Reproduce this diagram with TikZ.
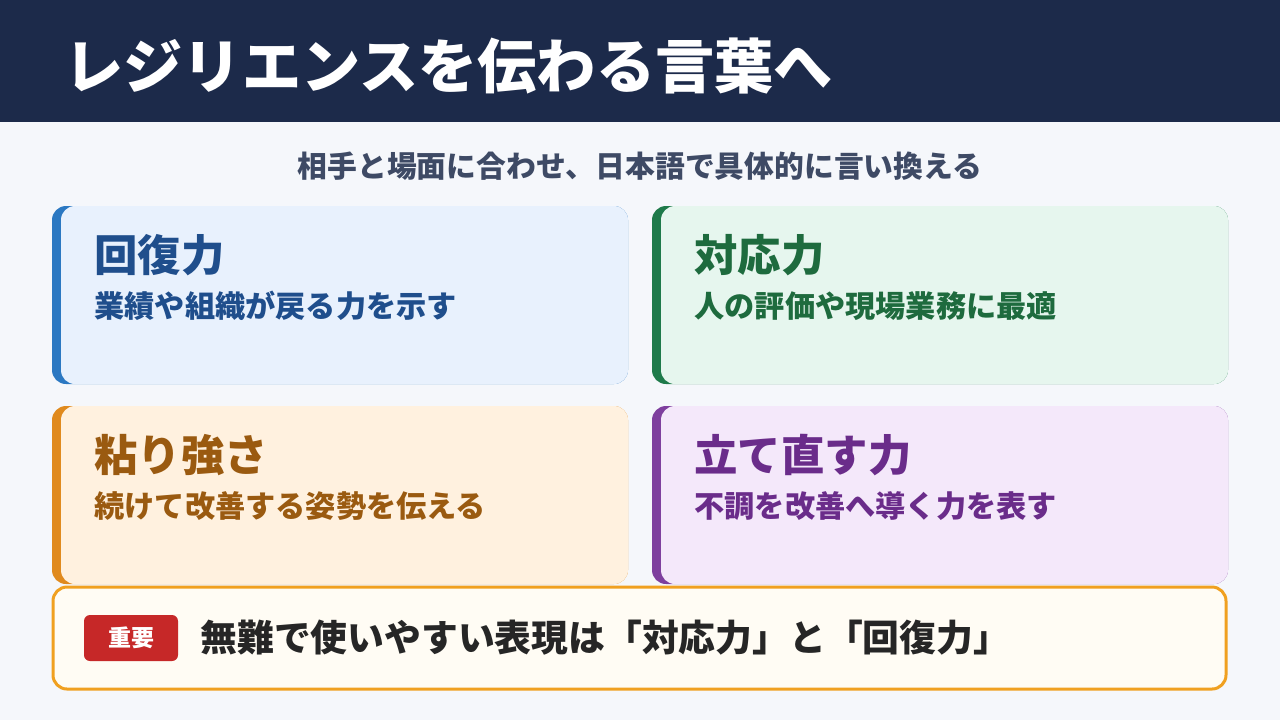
\documentclass[tikz,border=0pt]{standalone}
\usepackage{fontspec}
\setmainfont{Noto Sans CJK JP}
\usepackage{tikz}
\definecolor{navy}{HTML}{1C2A4A}
\definecolor{bgc}{HTML}{F5F7FB}
\definecolor{blueA}{HTML}{2B78C2}\definecolor{blueF}{HTML}{E8F1FD}\definecolor{blueT}{HTML}{1F4E8C}
\definecolor{greenA}{HTML}{1E7A4A}\definecolor{greenF}{HTML}{E6F6EE}\definecolor{greenT}{HTML}{1E6B3E}
\definecolor{orA}{HTML}{E08A1E}\definecolor{orF}{HTML}{FFF1DF}\definecolor{orT}{HTML}{9A5A10}
\definecolor{puA}{HTML}{7E3F9E}\definecolor{puF}{HTML}{F4E8FA}\definecolor{puT}{HTML}{6A2C8A}
\definecolor{gold}{HTML}{F0A020}
\definecolor{badge}{HTML}{C62828}
\definecolor{cream}{HTML}{FFFCF4}
\tikzstyle{head} = [anchor=west, inner sep=0pt, text=white, font=\fontsize{29.6}{34}\selectfont\bfseries]
\tikzstyle{ttl} = [anchor=west, inner sep=0pt, font=\fontsize{21.7}{26}\selectfont\bfseries]
\tikzstyle{sub} = [anchor=west, inner sep=0pt, font=\fontsize{15.1}{18}\selectfont\bfseries]
\newcommand{\card}[7]{%
  \fill[#3, rounded corners=7pt] (#1,#2) rectangle ++(576,178);
  \fill[#4, rounded corners=7pt] (#1+9,#2) rectangle ++(567,178);
  \node (#7t) at (#1+42,#2+49) [ttl, text=#5] {#6};
}
\begin{document}
\begin{tikzpicture}[x=0.5pt, y=-0.5pt]
  \useasboundingbox (0,0) rectangle (1280,720);
  \fill[bgc] (0,0) rectangle (1280,720);
  \fill[navy] (0,0) rectangle (1280,122);
  \node (title) at (64,66) [head] {レジリエンスを伝わる言葉へ};
  \node (lead) at (640,166) [font=\fontsize{14.9}{18}\selectfont\bfseries, text=navy!85] {相手と場面に合わせ、日本語で具体的に言い換える};
  \card{52}{206}{blueA}{blueF}{blueT}{回復力}{kaifuku}
  \node (kaifukus) at (94,306) [sub, text=blueT] {業績や組織が戻る力を示す};
  \card{652}{206}{greenA}{greenF}{greenT}{対応力}{taiou}
  \node (taious) at (694,306) [sub, text=greenT] {人の評価や現場業務に最適};
  \card{52}{406}{orA}{orF}{orT}{粘り強さ}{nebari}
  \node (nebaris) at (94,506) [sub, text=orT] {続けて改善する姿勢を伝える};
  \card{652}{406}{puA}{puF}{puT}{立て直す力}{tatenaoshi}
  \node (tatenaoshis) at (694,506) [sub, text=puT] {不調を改善へ導く力を表す};
  \draw[gold, line width=1.5pt, fill=cream, rounded corners=7pt] (53,587) rectangle (1226,689);
  \node (badge) at (131,638) [fill=badge, rounded corners=3pt, minimum width=47pt, minimum height=23pt,
    text=white, font=\fontsize{11.5}{13}\selectfont\bfseries] {重要};
  \node (note) at (200,638) [anchor=west, inner sep=0pt, text=black!85, font=\fontsize{18.4}{22}\selectfont\bfseries]
    {無難で使いやすい表現は「対応力」と「回復力」};
\end{tikzpicture}
\end{document}
